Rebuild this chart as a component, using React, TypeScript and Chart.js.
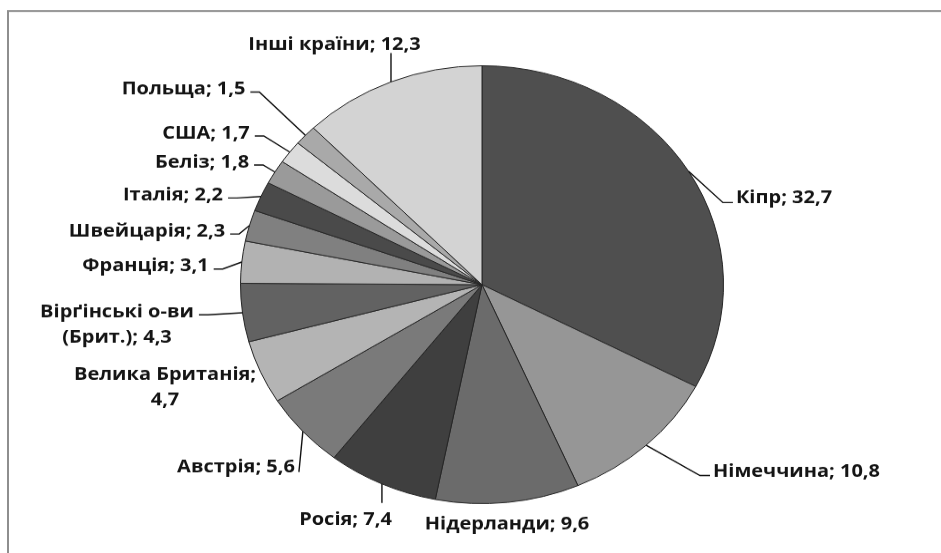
import React, { useEffect, useRef } from 'react';
import { Chart, registerables } from 'chart.js';

Chart.register(...registerables);

// ---- data ----
const categories = [
  'Кіпр',
  'Німеччина',
  'Нідерланди',
  'Росія',
  'Австрія',
  'Велика Британія',
  'Вірґінські о-ви (Брит.)',
  'Франція',
  'Швейцарія',
  'Італія',
  'Беліз',
  'США',
  'Польща',
  'Інші країни',
];
const shares = [32.7, 10.8, 9.6, 7.4, 5.6, 4.7, 4.3, 3.1, 2.3, 2.2, 1.8, 1.7, 1.5, 12.3];
const sliceColors = [
  '#4f4f4f',
  '#969696',
  '#6b6b6b',
  '#3f3f3f',
  '#7a7a7a',
  '#b4b4b4',
  '#626262',
  '#b2b2b2',
  '#808080',
  '#4a4a4a',
  '#9a9a9a',
  '#dcdcdc',
  '#a9a9a9',
  '#d3d3d3',
];

// ---- layout (page pixels) ----
const W = 941;
const H_CSS = 553;
const H = 610; // drawing height, squeezed to H_CSS
const S = H_CSS / H;
const FONT_PX = 20;
const CAP = 0.714;
const LINE_H = 25.4;

type Lay = { x: number; y: number; leader: 'left' | 'right' | 'top' | 'bottom' | 'diag' | 'none'; wrap?: string };
const labelLayout: Lay[] = [
  { x: 784, y: 197, leader: 'right' },
  { x: 796.5, y: 470, leader: 'right' },
  { x: 507, y: 523, leader: 'none' },
  { x: 345.5, y: 518, leader: 'bottom' },
  { x: 236, y: 466, leader: 'diag' },
  { x: 165, y: 386.5, leader: 'none', wrap: '; ' },
  { x: 117, y: 323.5, leader: 'left', wrap: 'о-ви ' },
  { x: 145.5, y: 265, leader: 'left' },
  { x: 147, y: 230, leader: 'left' },
  { x: 173, y: 194, leader: 'left' },
  { x: 202, y: 161, leader: 'left' },
  { x: 206, y: 132, leader: 'left' },
  { x: 183.5, y: 88, leader: 'left' },
  { x: 334.5, y: 43, leader: 'top' },
];

const fmt = (v: number) => v.toFixed(1).replace('.', ',');

const decorPlugin = {
  id: 'decor',
  beforeDraw(chart: any) {
    const ctx = chart.ctx as CanvasRenderingContext2D;
    ctx.save();
    ctx.fillStyle = '#ffffff';
    ctx.fillRect(0, 0, chart.width, chart.height);
    ctx.strokeStyle = '#8e8e8e';
    ctx.lineWidth = 2;
    ctx.strokeRect(8, 11 / S, 1000, 1000);
    ctx.restore();
  },
  afterDraw(chart: any) {
    const ctx = chart.ctx as CanvasRenderingContext2D;
    const meta = chart.getDatasetMeta(0);
    ctx.save();
    ctx.font = `bold ${FONT_PX}px "Open Sans"`;
    ctx.fillStyle = '#141414';
    ctx.strokeStyle = '#111111';
    ctx.lineWidth = 1.4;
    ctx.textAlign = 'center';
    ctx.textBaseline = 'alphabetic';
    categories.forEach((name, i) => {
      const lay = labelLayout[i];
      const arc = meta.data[i] as any;
      const mid = (arc.startAngle + arc.endAngle) / 2;
      const px = arc.x + Math.cos(mid) * arc.outerRadius;
      const py = arc.y + Math.sin(mid) * arc.outerRadius;
      const text = `${name}; ${fmt(shares[i])}`;
      let lines = [text];
      if (lay.wrap) {
        const k = text.indexOf(lay.wrap) + lay.wrap.length;
        lines = [text.slice(0, k).trim(), text.slice(k).trim()];
      }
      const cy = lay.y / S;
      const lh = LINE_H / S;
      const top = cy - ((lines.length - 1) * lh) / 2;
      lines.forEach((ln, j) => ctx.fillText(ln, lay.x, top + j * lh + (CAP * FONT_PX) / 2));
      const w0 = ctx.measureText(lines[0]).width;
      const right = lay.x + w0 / 2;
      const left = lay.x - w0 / 2;
      const pts: [number, number][] = [];
      if (lay.leader === 'left') {
        const y0 = top + 4 / S;
        pts.push([right + 5, y0], [right + 14, y0], [px, py]);
      } else if (lay.leader === 'right') {
        const y0 = cy + 5.5 / S;
        pts.push([left - 3, y0], [left - 13, y0], [px, py]);
      } else if (lay.leader === 'top') {
        pts.push([px, cy + 10 / S], [px, py]);
      } else if (lay.leader === 'bottom') {
        pts.push([px, cy - 15 / S], [px, py]);
      } else if (lay.leader === 'diag') {
        pts.push([right + 4, cy + 6 / S], [px, py]);
      }
      if (pts.length) {
        ctx.beginPath();
        ctx.moveTo(pts[0][0], pts[0][1]);
        for (let k = 1; k < pts.length; k++) ctx.lineTo(pts[k][0], pts[k][1]);
        ctx.stroke();
      }
    });
    ctx.restore();
  },
};

export default function App() {
  const ref = useRef<HTMLCanvasElement | null>(null);
  useEffect(() => {
    if (!ref.current) return;
    const chart = new Chart(ref.current, {
      type: 'pie',
      data: {
        labels: categories,
        datasets: [
          {
            data: shares,
            backgroundColor: sliceColors,
            borderColor: '#262626',
            borderWidth: 1,
          },
        ],
      },
      options: {
        responsive: false,
        animation: false,
        devicePixelRatio: 1,
        events: [],
        layout: { padding: { left: 240, right: 217, top: 72, bottom: 54 } },
        plugins: { legend: { display: false }, tooltip: { enabled: false } },
      },
      plugins: [decorPlugin],
    } as any);
    return () => chart.destroy();
  }, []);
  return (
    <div style={{ position: 'fixed', left: 0, top: 0, width: W, height: H_CSS, background: '#fff' }}>
      <canvas
        ref={ref}
        width={W}
        height={H}
        style={{ width: `${W}px`, height: `${H_CSS}px`, display: 'block' }}
      />
    </div>
  );
}
